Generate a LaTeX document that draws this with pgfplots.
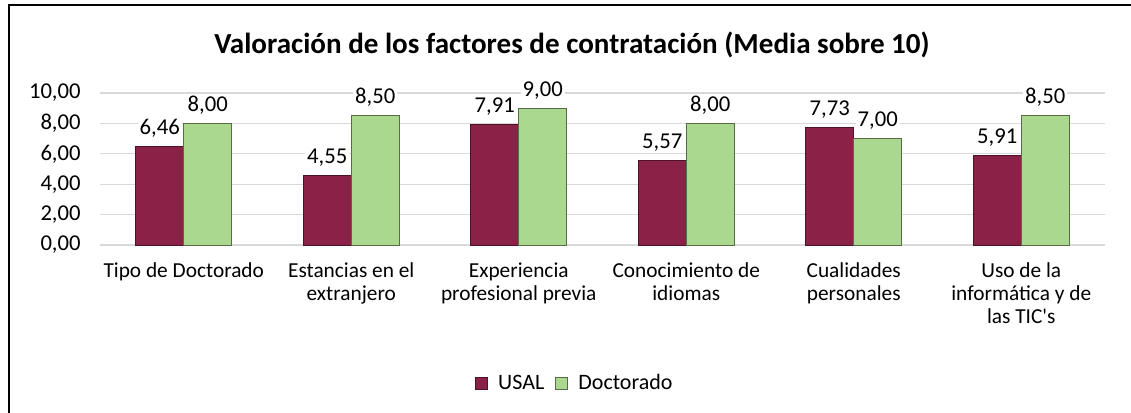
\documentclass[border=0pt]{standalone}
\usepackage{pgfplots}
\pgfplotsset{compat=1.18}
\usepackage{fontspec}
\setmainfont{Carlito}[Ligatures=TeXOff]
\definecolor{usal}{HTML}{8A2248}
\definecolor{doct}{HTML}{A9D88E}
\definecolor{gridc}{HTML}{D9D9D9}
\begin{document}
\begin{tikzpicture}
\path[use as bounding box] (0,0) rectangle (848.25pt,309pt);
\draw[line width=1.6pt,black] (6.5pt,-5pt) -- (6.5pt,305.5pt) -- (860pt,305.5pt);
\node[font=\fontsize{21.8}{25}\selectfont\bfseries] at (429pt,275pt) {Valoración de los factores de contratación (Media sobre 10)};
\begin{axis}[
  at={(75pt,125.25pt)}, anchor=south west,
  scale only axis, width=753.75pt, height=114pt,
  ybar=0pt, bar width=36pt,
  xmin=-0.5, xmax=5.5, ymin=0, ymax=10,
  xtick=data,
  xticklabels={Tipo de Doctorado,{Estancias en el\\extranjero},{Experiencia\\profesional previa},{Conocimiento de\\idiomas},{Cualidades\\personales},{Uso de la\\informática y de\\las TIC's}},
  ytick={0,2,4,6,8,10},
  axis line style={draw=none},
  major tick length=0pt,
  ymajorgrids, grid style={gridc, line width=0.9pt},
  /pgf/number format/.cd, fixed, fixed zerofill, precision=2, use comma, assume math mode=true,
  /pgfplots/.cd,
  xticklabel style={font=\fontsize{16}{17.3}\selectfont, align=center, yshift=-10pt},
  yticklabel style={font=\fontsize{17}{18}\selectfont, xshift=-11pt},
  nodes near coords,
  nodes near coords style={font=\fontsize{17}{18}\selectfont, yshift=5pt, fill=white, inner sep=1.5pt, /pgf/number format/.cd, fixed, fixed zerofill, precision=2, use comma, assume math mode=true},
  legend columns=2,
  legend style={at={(rel axis cs:0.4726,-0.908)}, anchor=center, draw=none, font=\fontsize{16.5}{17.5}\selectfont, column sep=6pt},
  legend image code/.code={\fill[#1] (0pt,-4.5pt) rectangle (9pt,4.5pt);},
  clip=false,
]
\addplot[fill=usal, draw=usal!55!black, line width=0.6pt] coordinates {(0,6.46) (1,4.55) (2,7.91) (3,5.57) (4,7.73) (5,5.91)};
\addplot[fill=doct, draw=doct!50!black, line width=0.6pt] coordinates {(0,8.00) (1,8.50) (2,9.00) (3,8.00) (4,7.00) (5,8.50)};
\legend{USAL,Doctorado}
\end{axis}
\end{tikzpicture}
\end{document}
